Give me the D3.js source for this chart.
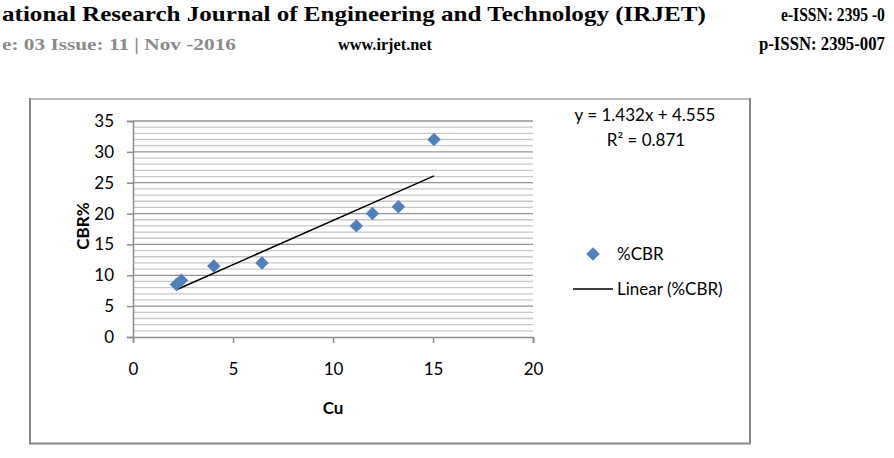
<!DOCTYPE html>
<html>
<head>
<meta charset="utf-8">
<script src="https://d3js.org/d3.v7.min.js"></script>
<style>
  body { margin: 0; background: #fff; }
  svg { display: block; }
</style>
</head>
<body>
<div id="chart"></div>
<script>
// Data
var cuValues = [2.17, 2.42, 4.04, 6.45, 11.17, 11.97, 13.27, 15.05];
var cbrValues = [8.5, 9.2, 11.5, 12.0, 18.0, 20.0, 21.1, 32.0];
var xTicks = [0, 5, 10, 15, 20];
var yTicks = [0, 5, 10, 15, 20, 25, 30, 35];
var trendSlope = 1.432;
var trendIntercept = 4.555;
var rSquared = 0.871;
var seriesName = "%CBR";

var svgWidth = 894;
var svgHeight = 458;

var margin = { top: 121, left: 133 };
var width = 400;
var height = 216;

var svg = d3.select("#chart")
  .append("svg")
  .attr("width", svgWidth)
  .attr("height", svgHeight);

// page header (cropped journal header), squeezed horizontally to fit
var serif = "'Liberation Serif', 'DejaVu Serif', serif";
function headerText(x, y, txt, len, size, color) {
  var t = svg.append("text")
    .style("font-family", serif)
    .style("font-weight", "bold")
    .style("font-size", size + "px")
    .style("fill", color)
    .text(txt);
  var natural = t.node().getComputedTextLength();
  t.attr("transform", `translate(${x}, ${y}) scale(${len / natural}, 1)`);
}
headerText(2, 21, "ational Research Journal of Engineering and Technology (IRJET)", 704, 21, "#000");
headerText(781, 21, "e-ISSN: 2395 -0", 104, 18, "#000");
headerText(2, 50, "e: 03 Issue: 11 | Nov -2016", 234, 17, "#8a8a8a");
headerText(338, 50, "www.irjet.net", 94, 17, "#000");
headerText(759, 50, "p-ISSN: 2395-007", 126, 18, "#000");

// chart frame
var frame = svg.append("g");
frame.append("line").attr("x1", 30).attr("y1", 99).attr("x2", 750).attr("y2", 99)
  .attr("stroke", "#bcbcbc").attr("stroke-width", 2);
frame.append("line").attr("x1", 30).attr("y1", 98).attr("x2", 30).attr("y2", 444)
  .attr("stroke", "#878787").attr("stroke-width", 2);
frame.append("line").attr("x1", 750).attr("y1", 98).attr("x2", 750).attr("y2", 444)
  .attr("stroke", "#878787").attr("stroke-width", 2);
frame.append("line").attr("x1", 29).attr("y1", 443.5).attr("x2", 751).attr("y2", 443.5)
  .attr("stroke", "#878787").attr("stroke-width", 2);

var chartGroup = svg.append("g")
  .attr("transform", `translate(${margin.left}, ${margin.top})`);

// scales
var xScale = d3.scaleLinear().domain([0, 20]).range([0, width]);
var yScale = d3.scaleLinear().domain([0, 35]).range([height, 0]);

// gridlines: minor every 1, major every 5
var minor = d3.range(1, 35).filter(d => d % 5 !== 0);
chartGroup.selectAll(".minor")
  .data(minor)
  .enter()
  .append("line")
  .attr("x1", 0)
  .attr("x2", width)
  .attr("y1", d => yScale(d))
  .attr("y2", d => yScale(d))
  .attr("stroke", "#c8c8c8")
  .attr("stroke-width", 1.3);

chartGroup.selectAll(".major")
  .data(yTicks.filter(d => d > 0))
  .enter()
  .append("line")
  .attr("x1", 0)
  .attr("x2", width)
  .attr("y1", d => yScale(d))
  .attr("y2", d => yScale(d))
  .attr("stroke", "#939393")
  .attr("stroke-width", 1.3);

// axes
var font = "Lato, 'Open Sans', sans-serif";
var leftAxis = d3.axisLeft(yScale).tickValues(yTicks).tickSize(6).tickPadding(13);
var bottomAxis = d3.axisBottom(xScale).tickValues(xTicks).tickSize(6).tickPadding(20);

var yAxisG = chartGroup.append("g").call(leftAxis);
var xAxisG = chartGroup.append("g")
  .attr("transform", `translate(0, ${height})`)
  .call(bottomAxis);

[yAxisG, xAxisG].forEach(function(g) {
  g.select(".domain").attr("stroke", "#8c8c8c").attr("stroke-width", 1.5);
  g.selectAll(".tick line").attr("stroke", "#8c8c8c").attr("stroke-width", 1.5);
  g.selectAll(".tick text")
    .style("font-family", font)
    .style("font-size", "17px")
    .style("fill", "#000");
});

// trendline over the data range
var xMin = d3.min(cuValues);
var xMax = d3.max(cuValues);
chartGroup.append("line")
  .attr("x1", xScale(xMin))
  .attr("y1", yScale(trendSlope * xMin + trendIntercept))
  .attr("x2", xScale(xMax))
  .attr("y2", yScale(trendSlope * xMax + trendIntercept))
  .attr("stroke", "#000")
  .attr("stroke-width", 1.5);

// points
var diamond = d3.symbol().type(d3.symbolSquare).size(90);
chartGroup.selectAll(".pt")
  .data(cuValues)
  .enter()
  .append("path")
  .attr("d", diamond)
  .attr("transform", (d, i) => `translate(${xScale(d)}, ${yScale(cbrValues[i])}) rotate(45)`)
  .attr("fill", "#4f81bd");

// axis titles
chartGroup.append("text")
  .attr("transform", `translate(${-44}, ${height / 2 - 3}) rotate(-90)`)
  .style("text-anchor", "middle")
  .style("font-family", font)
  .style("font-size", "17px")
  .style("font-weight", "bold")
  .text("CBR%");

chartGroup.append("text")
  .attr("x", width / 2)
  .attr("y", height + 77)
  .style("text-anchor", "middle")
  .style("font-family", font)
  .style("font-size", "17px")
  .style("font-weight", "bold")
  .text("Cu");

// trendline equation
svg.append("text")
  .attr("x", 645)
  .attr("y", 121)
  .style("text-anchor", "middle")
  .style("font-family", font)
  .style("font-size", "17px")
  .text(`y = ${trendSlope}x + ${trendIntercept}`);

svg.append("text")
  .attr("x", 646)
  .attr("y", 146)
  .style("text-anchor", "middle")
  .style("font-family", font)
  .style("font-size", "17px")
  .text(`R² = ${rSquared}`);

// legend
var legend = svg.append("g");
legend.append("path")
  .attr("d", diamond)
  .attr("transform", "translate(593, 254) rotate(45)")
  .attr("fill", "#4f81bd");
legend.append("text")
  .attr("x", 617)
  .attr("y", 260)
  .style("font-family", font)
  .style("font-size", "17px")
  .text(seriesName);
legend.append("line")
  .attr("x1", 573).attr("x2", 613)
  .attr("y1", 289).attr("y2", 289)
  .attr("stroke", "#000")
  .attr("stroke-width", 1.3);
legend.append("text")
  .attr("x", 617)
  .attr("y", 295)
  .style("font-family", font)
  .style("font-size", "17px")
  .text(`Linear (${seriesName})`);
</script>
</body>
</html>
